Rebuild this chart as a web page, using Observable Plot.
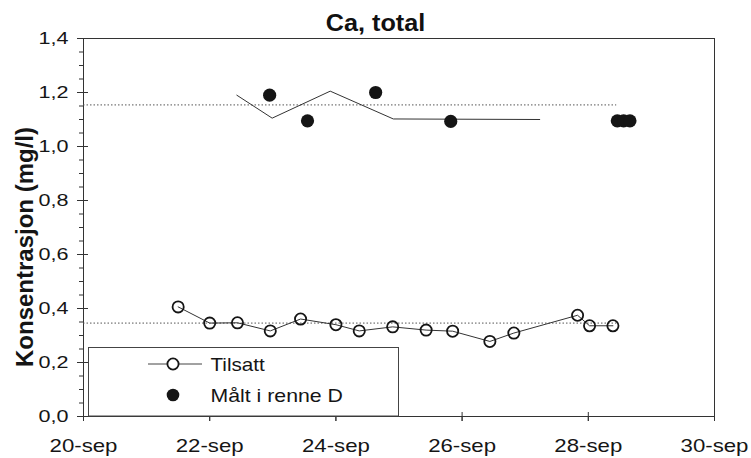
<!DOCTYPE html>
<html>
<head>
<meta charset="utf-8">
<script src="https://cdn.jsdelivr.net/npm/d3@7"></script>
<script src="https://cdn.jsdelivr.net/npm/@observablehq/plot@0.6"></script>
<style>
  html, body { margin: 0; padding: 0; background: #fff; }
  #chart { position: relative; width: 751px; height: 458px; overflow: hidden;
           font-family: "Liberation Sans", Arial, sans-serif; }
  #chart > svg { position: absolute; left: 0; top: 0; }
  #title { position: absolute; left: 0; top: 11px; width: 751px; text-align: center;
           font-weight: bold; font-size: 24px; line-height: 24px; color: #111;
           transform: scaleX(1.05); z-index: 3; }
  #legend { position: absolute; left: 0; top: 0; pointer-events: none; z-index: 2; }
</style>
</head>
<body>
<div id="chart"><div id="title">Ca, total</div></div>
<script>
// Ca, total — concentration (mg/l), 20–30 September (day of month)
const tilsattDay   = [21.5, 22.0, 22.44, 22.96, 23.44, 24.0, 24.37, 24.9, 25.43, 25.85, 26.44, 26.82, 27.83, 28.02, 28.39];
const tilsattValue = [0.406, 0.346, 0.347, 0.317, 0.361, 0.340, 0.317, 0.332, 0.320, 0.316, 0.278, 0.309, 0.375, 0.336, 0.336];

const maaltDay   = [22.95, 23.55, 24.63, 25.82, 28.46, 28.56, 28.66];
const maaltValue = [1.190, 1.095, 1.200, 1.093, 1.095, 1.095, 1.095];

// unmarked line in the upper band
const upperDay   = [22.43, 22.99, 23.91, 24.91, 27.23];
const upperValue = [1.190, 1.105, 1.205, 1.102, 1.100];

// dotted level lines
const levelValue = [1.154, 0.346];
const levelFrom  = [20, 20];
const levelTo    = [28.45, 28.45];

const xTicks = [20, 22, 24, 26, 28, 30];
const xTickLabels = ["20-sep", "22-sep", "24-sep", "26-sep", "28-sep", "30-sep"];
const yTicks = [0, 0.2, 0.4, 0.6, 0.8, 1.0, 1.2, 1.4];
const yMinorTicks = d3.range(0, 1.4001, 0.05);
const yLabel = "Konsentrasjon (mg/l)";
const seriesNames = ["Tilsatt", "Målt i renne D"];

const tilsatt = tilsattDay.map((d, i) => ({day: d, value: tilsattValue[i]}));
const maalt = maaltDay.map((d, i) => ({day: d, value: maaltValue[i]}));
const upper = upperDay.map((d, i) => ({day: d, value: upperValue[i]}));
const levels = levelValue.map((v, i) => ({value: v, from: levelFrom[i], to: levelTo[i]}));

const ink = "#151515";
const fmtY = d => d.toFixed(1).replace(".", ",");
const fmtX = d => xTickLabels[xTicks.indexOf(d)];

const svg = Plot.plot({
  width: 751,
  height: 458,
  marginLeft: 83,
  marginRight: 37,
  marginTop: 38,
  marginBottom: 42,
  style: {fontFamily: "'Liberation Sans', Arial, sans-serif", fontSize: "18px", color: ink, background: "transparent"},
  x: {domain: [20, 30]},
  y: {domain: [0, 1.4]},
  marks: [
    Plot.frame({stroke: "#333", strokeWidth: 1}),
    Plot.ruleY(levels, {y: "value", x1: "from", x2: "to", stroke: "#555", strokeWidth: 1, strokeDasharray: "1.5,2"}),
    Plot.line(upper, {x: "day", y: "value", stroke: "#333", strokeWidth: 1}),
    Plot.line(tilsatt, {x: "day", y: "value", stroke: "#333", strokeWidth: 1}),
    Plot.dot(tilsatt, {x: "day", y: "value", r: 5.6, fill: "none", stroke: ink, strokeWidth: 1.8}),
    Plot.dot(maalt, {x: "day", y: "value", r: 6.6, fill: ink, stroke: "none"}),
    // y axis: labelled outward ticks, crossing ticks, minor ticks
    Plot.axisY({ticks: yTicks, tickSize: 6, tickPadding: 9, tickFormat: fmtY, fontSize: 17, label: null, stroke: "#333"}),
    Plot.axisY({ticks: yTicks, tickSize: 11, dx: 5, text: null, label: null, stroke: "#333"}),
    Plot.axisY({ticks: yMinorTicks, tickSize: 4, text: null, label: null, stroke: "#333"}),
    // x axis: labelled outward ticks plus a short inner part
    Plot.axisX({ticks: xTicks, tickSize: 5, tickPadding: 17.5, tickFormat: fmtX, fontSize: 18.5, label: null, stroke: "#333"}),
    Plot.axisX({ticks: xTicks, tickSize: 9, dy: -4, text: null, label: null, stroke: "#333"}),
    // rotated axis title, set a little below the vertical centre
    Plot.text([yLabel], {text: d => d, frameAnchor: "left", textAnchor: "middle", rotate: -90, dx: -58, dy: 19.5,
                         fontWeight: "bold", fontSize: 24, fill: ink})
  ]
});

const chart = document.getElementById("chart");
chart.insertBefore(svg, chart.firstChild);

// widen tick-label glyphs horizontally
function widen(root, selector, factor) {
  root.querySelectorAll(selector).forEach(t => {
    const w = t.getComputedTextLength();
    if (w > 0) {
      t.setAttribute("textLength", (w * factor).toFixed(1));
      t.setAttribute("lengthAdjust", "spacingAndGlyphs");
    }
  });
}
widen(svg, '[aria-label="y-axis tick label"] text', 1.27);
widen(svg, '[aria-label="x-axis tick label"] text', 1.2);

// legend box inside the plot area, lower left
const y = svg.scale("y");
const lg = d3.select(chart).append("svg")
  .attr("id", "legend").attr("width", 751).attr("height", 458)
  .style("font-family", "'Liberation Sans', Arial, sans-serif");
const box = {left: 88.5, top: 347.5, right: 398.5, bottom: y.apply(0)};
lg.append("rect")
  .attr("x", box.left).attr("y", box.top)
  .attr("width", box.right - box.left).attr("height", box.bottom - box.top)
  .attr("fill", "#fff").attr("stroke", "#444").attr("stroke-width", 1);
const row1 = 364, row2 = 395, swatchX = 173, textX = 210.5;
lg.append("line").attr("x1", swatchX - 25).attr("x2", swatchX + 29).attr("y1", row1).attr("y2", row1)
  .attr("stroke", "#444").attr("stroke-width", 1);
lg.append("circle").attr("cx", swatchX).attr("cy", row1).attr("r", 5.6)
  .attr("fill", "#fff").attr("stroke", ink).attr("stroke-width", 1.8);
lg.append("circle").attr("cx", swatchX).attr("cy", row2).attr("r", 6.3).attr("fill", ink);
const t1 = lg.append("text").attr("x", textX).attr("y", row1 + 7).attr("font-size", 18.5).attr("fill", ink).text(seriesNames[0]);
const t2 = lg.append("text").attr("x", textX).attr("y", row2 + 6.5).attr("font-size", 18.5).attr("fill", ink).text(seriesNames[1]);
[[t1, 1.115], [t2, 1.15]].forEach(([t, f]) => {
  const w = t.node().getComputedTextLength();
  t.attr("textLength", (w * f).toFixed(1)).attr("lengthAdjust", "spacingAndGlyphs");
});
</script>
</body>
</html>
